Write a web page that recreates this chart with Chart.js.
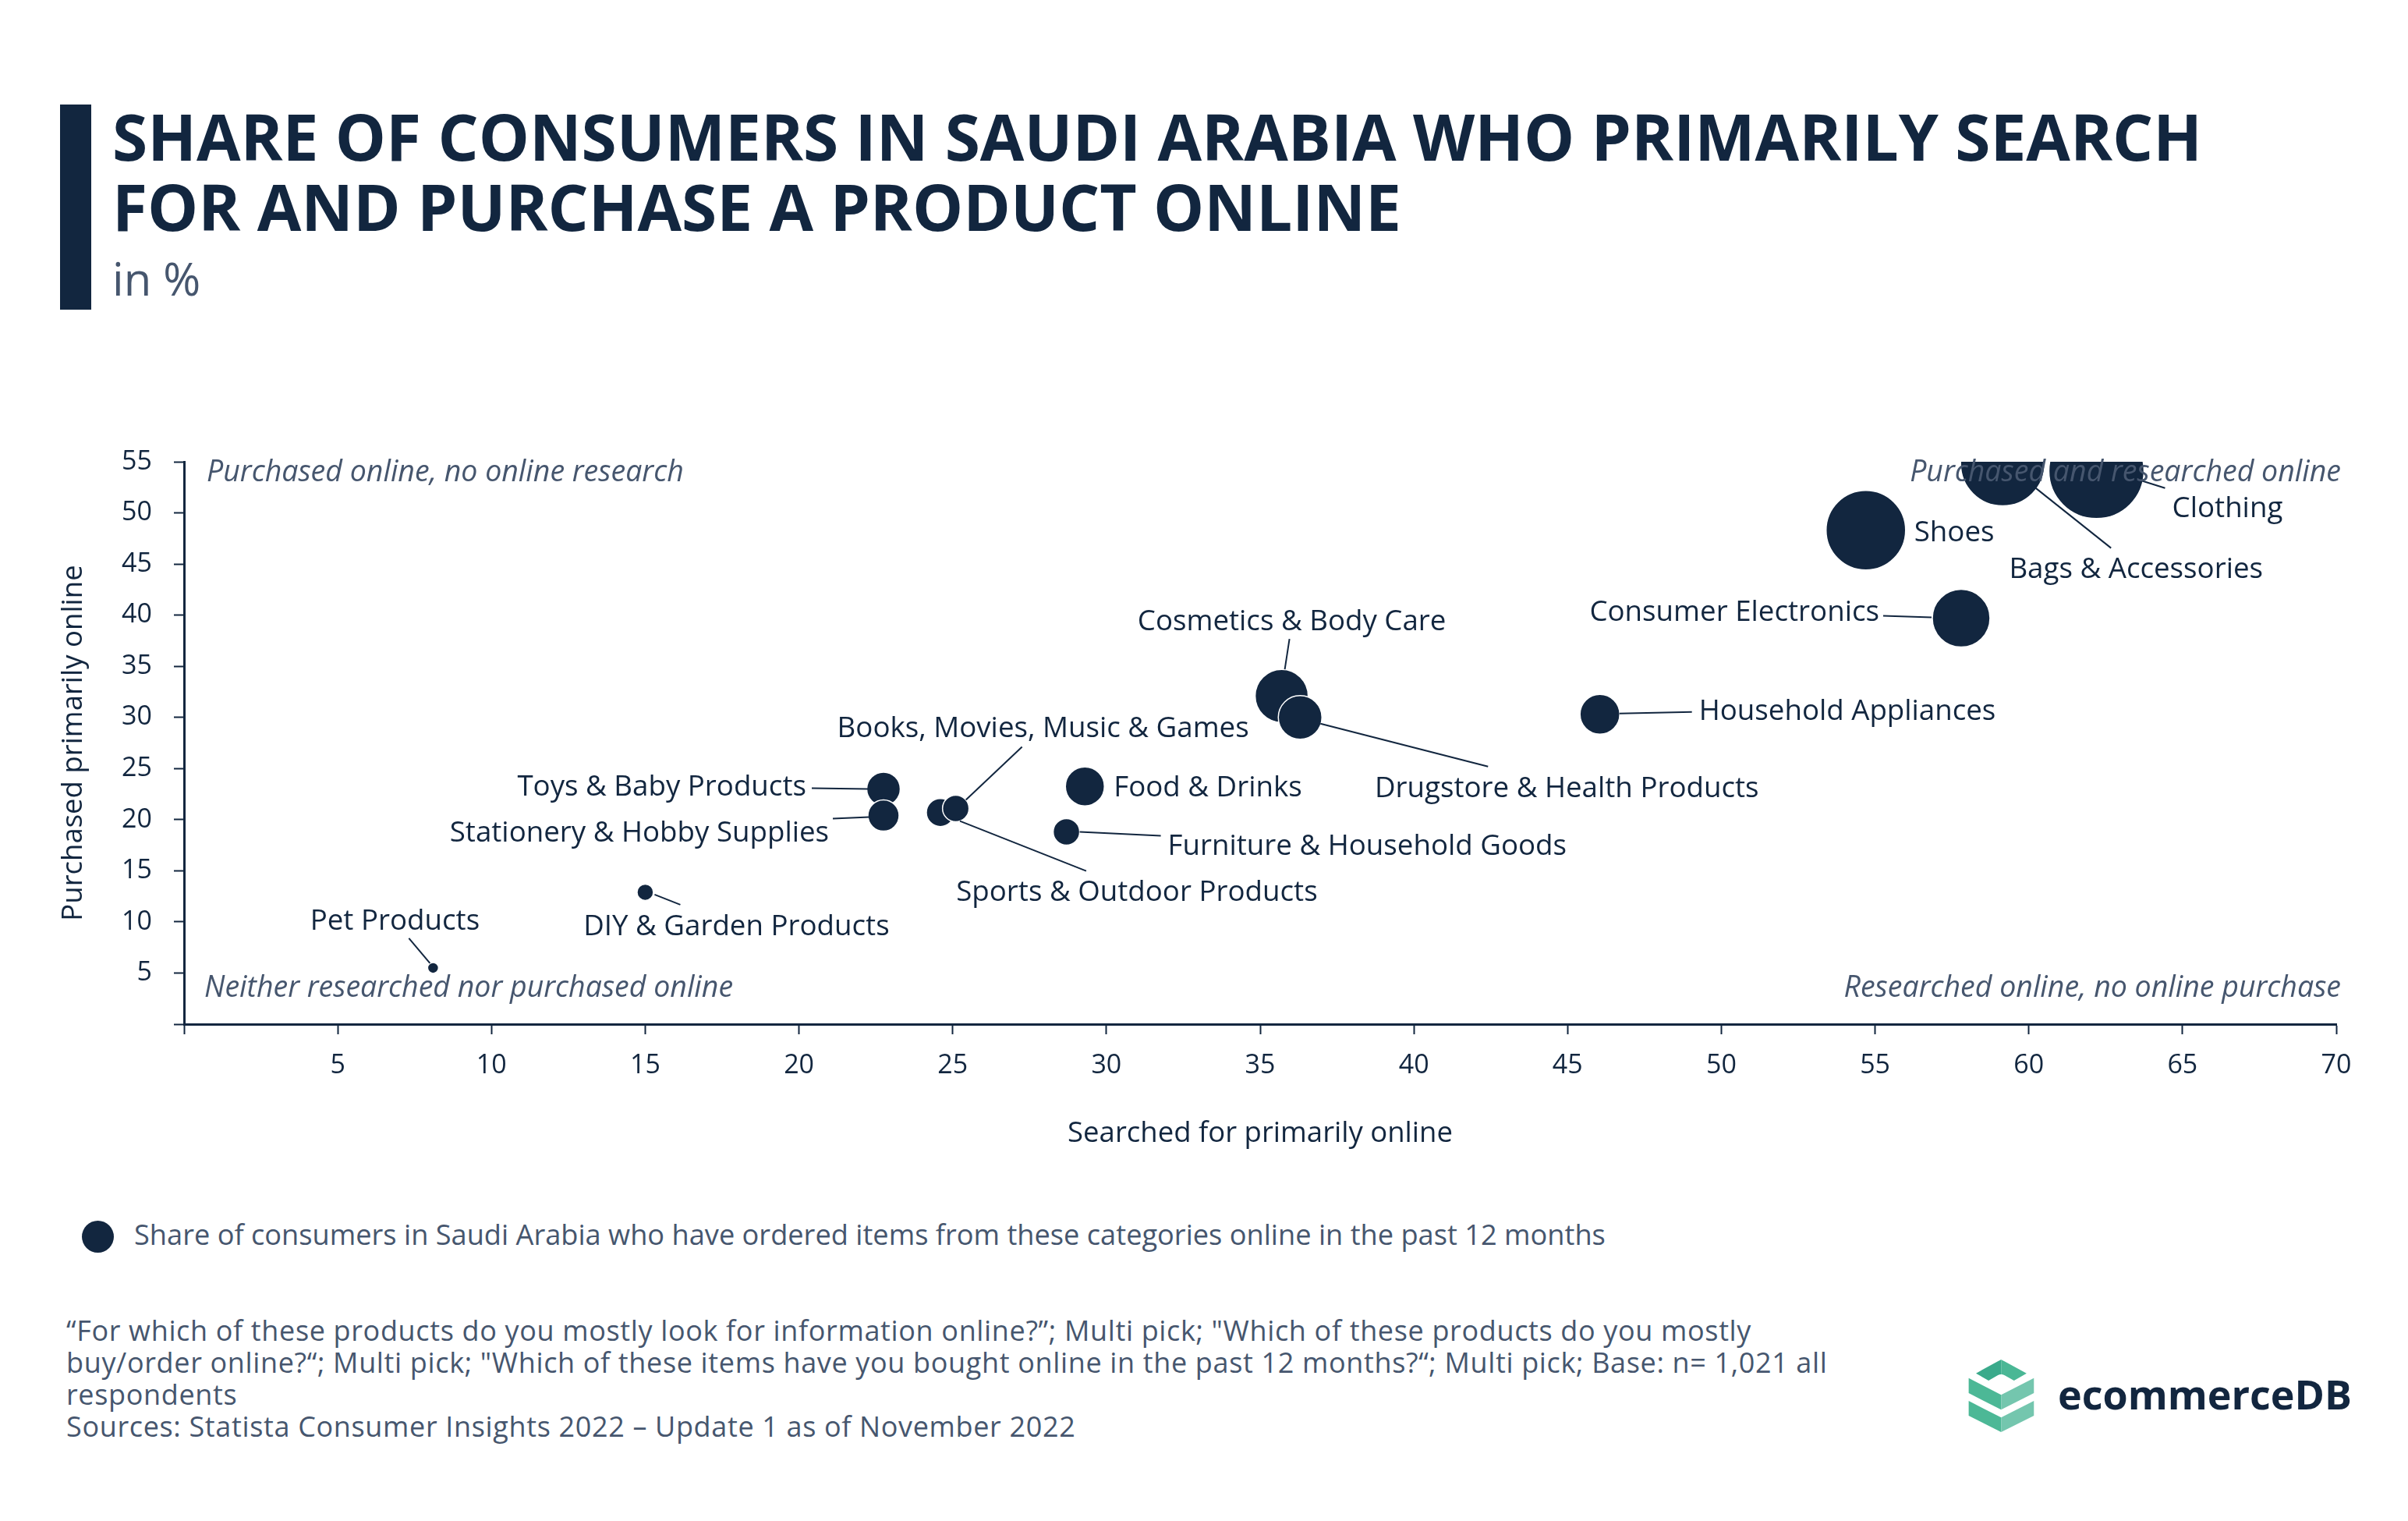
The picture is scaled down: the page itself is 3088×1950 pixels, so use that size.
<!DOCTYPE html>
<html>
<head>
<meta charset="utf-8">
<script src="https://cdn.jsdelivr.net/npm/chart.js@4.4.0/dist/chart.umd.min.js"></script>
<style>
html,body{margin:0;padding:0;background:#fff;width:3088px;height:1950px;overflow:hidden;font-family:"Open Sans",sans-serif;}
.abs{position:absolute;white-space:nowrap;}
#bar{left:77px;top:134px;width:40px;height:263px;background:#12263f;}
#title{left:144px;top:129px;font-size:82px;font-weight:700;line-height:90px;color:#12263f;}
#sub{left:144px;top:326px;font-size:58px;line-height:62px;color:#46566e;}
#legend-dot{left:105px;top:1565px;width:41px;height:41px;border-radius:50%;background:#12263f;}
#legend-text{left:172px;top:1562px;font-size:36.2px;line-height:40px;color:#46566e;}
#footer{left:85px;top:1685px;font-size:36px;letter-spacing:0.65px;line-height:41px;color:#46566e;}
#logo-text{left:2639px;top:1757px;font-size:52px;font-weight:700;line-height:60px;color:#12263f;}
#logo-icon{left:2522px;top:1740px;width:90px;height:100px;}
#chart{position:absolute;left:0;top:440px;width:3088px;height:1100px;}
</style>
</head>
<body>
<div id="bar" class="abs"></div>
<div id="title" class="abs">SHARE OF CONSUMERS IN SAUDI ARABIA WHO PRIMARILY SEARCH<br>FOR AND PURCHASE A PRODUCT ONLINE</div>
<div id="sub" class="abs">in %</div>

<canvas id="chart" width="3088" height="1100"></canvas>

<div id="legend-dot" class="abs"></div>
<div id="legend-text" class="abs"></div>

<div id="footer" class="abs">“For which of these products do you mostly look for information online?”; Multi pick; "Which of these products do you mostly<br>buy/order online?“; Multi pick; "Which of these items have you bought online in the past 12 months?“; Multi pick; Base: n= 1,021 all<br>respondents<br>Sources: Statista Consumer Insights 2022 – Update 1 as of November 2022</div>

<svg id="logo-icon" class="abs" viewBox="60 60 240 300" preserveAspectRatio="none">
  <path d="M92,122 L168,75 Q178,69 178,69 L178,126 Q172,126 166,130 L135,150 Z" fill="#3aaa8b"/>
  <path d="M265,122 L188,75 Q178,69 178,69 L178,126 Q184,126 190,130 L222,150 Z" fill="#4ab795"/>
  <path d="M67,140 L178,205 L178,262 L67,198 Z" fill="#4cb896"/>
  <path d="M290,140 L178,205 L178,262 L290,198 Z" fill="#74c6ae"/>
  <path d="M67,228 L178,292 L178,348 L67,285 Z" fill="#4cb896"/>
  <path d="M290,228 L178,292 L178,348 L290,285 Z" fill="#74c6ae"/>
</svg>
<div id="logo-text" class="abs">ecommerceDB</div>

<script>
// ---- DATA ----
const categories = [
  'Bags & Accessories', 'Clothing', 'Shoes', 'Consumer Electronics', 'Household Appliances',
  'Cosmetics & Body Care', 'Drugstore & Health Products', 'Food & Drinks',
  'Furniture & Household Goods', 'Sports & Outdoor Products', 'Books, Movies, Music & Games',
  'Toys & Baby Products', 'Stationery & Hobby Supplies', 'DIY & Garden Products', 'Pet Products'
];
// x: searched for primarily online (%)
const searched = [59.15, 62.2, 54.7, 57.8, 46.05, 35.7, 36.3, 29.3, 28.7, 24.6, 25.1, 22.75, 22.75, 15.0, 8.1];
// y: purchased primarily online (%)
const purchased = [54.8, 54.1, 48.3, 39.7, 30.3, 32.1, 30.0, 23.25, 18.8, 20.7, 21.1, 23.0, 20.4, 12.9, 5.5];
// bubble size: share who ordered items online in past 12 months (%)
const ordered = [54, 61, 51, 37, 25.5, 34, 28, 25, 17, 18, 17, 21.5, 20, 10.5, 7];

const xTicks = [0, 5, 10, 15, 20, 25, 30, 35, 40, 45, 50, 55, 60, 65, 70];
const yTicks = [0, 5, 10, 15, 20, 25, 30, 35, 40, 45, 50, 55];

const seriesLabel = 'Share of consumers in Saudi Arabia who have ordered items from these categories online in the past 12 months';
const xTitle = 'Searched for primarily online';
const yTitle = 'Purchased primarily online';
const cornerTexts = {
  topLeft: 'Purchased online, no online research',
  topRight: 'Purchased and researched online',
  bottomLeft: 'Neither researched nor purchased online',
  bottomRight: 'Researched online, no online purchase'
};

// ---- STYLE / LAYOUT ----
const NAVY = '#12263f';
const SLATE = '#46566e';
const RADIUS_SCALE = 1.0;
const LABEL_FONT = '36.7px "Open Sans"';
const CORNER_FONT = 'italic 37.5px "Open Sans"';

// label offsets relative to bubble centre (px): text anchor (baseline), alignment, leader line
const LABEL_LAYOUT = {
  'Clothing': {dx: 168, dy: 59, align: 'center', line: [53, 11, 88, 22]},
  'Bags & Accessories': {dx: 171, dy: 146, align: 'center', line: [41, 30, 139, 108]},
  'Shoes': {dx: 62, dy: 14, align: 'left'},
  'Consumer Electronics': {dx: -105, dy: 3, align: 'right', line: [-100, -3, -38, -1]},
  'Household Appliances': {dx: 127, dy: 7, align: 'left', line: [25, -1, 118, -3]},
  'Cosmetics & Body Care': {dx: 13, dy: -84, align: 'center', line: [10, -73, 4, -34]},
  'Drugstore & Health Products': {dx: 342, dy: 102, align: 'center', line: [26, 8, 241, 63]},
  'Food & Drinks': {dx: 37, dy: 13, align: 'left'},
  'Furniture & Household Goods': {dx: 130, dy: 29, align: 'left', line: [17, 0, 121, 5]},
  'Books, Movies, Music & Games': {dx: 112, dy: -91, align: 'center', line: [85, -79, 13, -11]},
  'Sports & Outdoor Products': {dx: 252, dy: 113, align: 'center', line: [25, 11, 187, 75]},
  'Toys & Baby Products': {dx: -99, dy: 9, align: 'right', line: [-92, -1, -20, 0]},
  'Stationery & Hobby Supplies': {dx: -70, dy: 33, align: 'right', line: [-65, 4, -18, 2]},
  'DIY & Garden Products': {dx: 117, dy: 55, align: 'center', line: [12, 3, 45, 16]},
  'Pet Products': {dx: -49, dy: -49, align: 'center', line: [-31, -38, -4, -6]}
};

document.getElementById('legend-text').textContent = seriesLabel;

const labelPlugin = {
  id: 'bubbleLabels',
  afterDatasetsDraw(chart) {
    const ctx = chart.ctx;
    const meta = chart.getDatasetMeta(0);
    ctx.save();
    ctx.strokeStyle = NAVY;
    ctx.lineWidth = 2;
    ctx.fillStyle = NAVY;
    ctx.font = LABEL_FONT;
    ctx.textBaseline = 'alphabetic';
    meta.data.forEach((pt, i) => {
      const L = LABEL_LAYOUT[categories[i]];
      if (!L) return;
      const {x, y} = pt.getProps(['x', 'y'], true);
      if (L.line) {
        ctx.beginPath();
        ctx.moveTo(x + L.line[0], y + L.line[1]);
        ctx.lineTo(x + L.line[2], y + L.line[3]);
        ctx.stroke();
      }
      ctx.textAlign = L.align;
      ctx.fillText(categories[i], x + L.dx, y + L.dy);
    });
    // quadrant captions
    const a = chart.chartArea;
    ctx.font = CORNER_FONT;
    ctx.fillStyle = SLATE;
    ctx.textAlign = 'left';
    ctx.fillText(cornerTexts.topLeft, a.left + 29, a.top + 25);
    ctx.fillText(cornerTexts.bottomLeft, a.left + 26, a.bottom - 35);
    ctx.textAlign = 'right';
    ctx.fillText(cornerTexts.topRight, a.right + 6, a.top + 25);
    ctx.fillText(cornerTexts.bottomRight, a.right + 6, a.bottom - 35);
    ctx.restore();
  }
};

Chart.defaults.font.family = '"Open Sans", sans-serif';
Chart.defaults.color = NAVY;

new Chart(document.getElementById('chart'), {
  type: 'bubble',
  data: {
    datasets: [{
      label: seriesLabel,
      data: categories.map((c, i) => ({x: searched[i], y: purchased[i], r: ordered[i] * RADIUS_SCALE})),
      backgroundColor: NAVY,
      borderColor: '#ffffff',
      borderWidth: 1.5,
      hoverRadius: 0,
      clip: 0
    }]
  },
  options: {
    responsive: false,
    devicePixelRatio: 1,
    animation: false,
    events: [],
    layout: {padding: {top: 152, right: 92, left: 0, bottom: 64.1}},
    plugins: {legend: {display: false}, tooltip: {enabled: false}},
    scales: {
      x: {
        type: 'linear',
        min: xTicks[0], max: xTicks[xTicks.length - 1],
        afterBuildTicks: (s) => { s.ticks = xTicks.map(v => ({value: v})); },
        afterFit: (s) => { s.height = 162.9; },
        ticks: {
          autoSkip: false, maxRotation: 0, padding: 20,
          font: {size: 34}, color: NAVY,
          callback: (v) => v === 0 ? '' : v
        },
        grid: {drawOnChartArea: false, drawTicks: true, tickLength: 13, tickWidth: 2, tickColor: NAVY},
        border: {display: true, color: NAVY, width: 3},
        title: {display: true, text: xTitle, font: {size: 36.5}, color: NAVY, padding: {top: 0, bottom: 0}}
      },
      y: {
        type: 'linear',
        min: yTicks[0], max: yTicks[yTicks.length - 1],
        afterBuildTicks: (s) => { s.ticks = yTicks.map(v => ({value: v})); },
        afterFit: (s) => { s.width = 236; },
        ticks: {
          autoSkip: false, padding: 28,
          font: {size: 34}, color: NAVY,
          callback: (v) => v === 0 ? '' : v
        },
        grid: {drawOnChartArea: false, drawTicks: true, tickLength: 13, tickWidth: 2, tickColor: NAVY},
        border: {display: true, color: NAVY, width: 3},
        title: {display: true, text: yTitle, font: {size: 36.5}, color: NAVY, padding: {top: 73, bottom: 0}}
      }
    }
  },
  plugins: [labelPlugin]
});
</script>
</body>
</html>
